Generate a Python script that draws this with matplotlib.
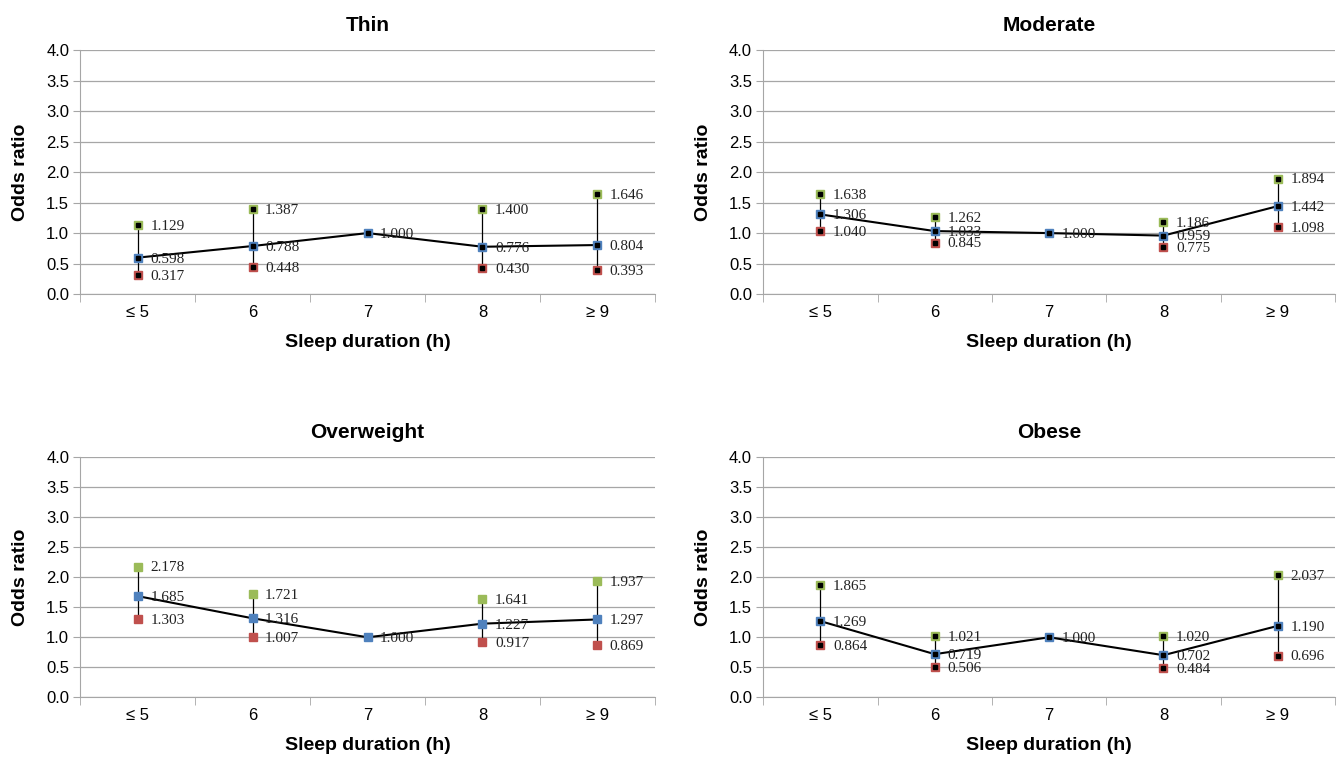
import matplotlib.pyplot as plt
import numpy as np

plt.rcParams["font.family"] = ["Liberation Sans", "DejaVu Sans"]

categories = ["≤ 5", "6", "7", "8", "≥ 9"]
yticks = [0.0, 0.5, 1.0, 1.5, 2.0, 2.5, 3.0, 3.5, 4.0]

# upper CI, odds ratio, lower CI (reference group 7 h has no CI)
thin_hi = [1.129, 1.387, None, 1.400, 1.646]
thin_or = [0.598, 0.788, 1.000, 0.776, 0.804]
thin_lo = [0.317, 0.448, None, 0.430, 0.393]

mod_hi = [1.638, 1.262, None, 1.186, 1.894]
mod_or = [1.306, 1.033, 1.000, 0.959, 1.442]
mod_lo = [1.040, 0.845, None, 0.775, 1.098]

over_hi = [2.178, 1.721, None, 1.641, 1.937]
over_or = [1.685, 1.316, 1.000, 1.227, 1.297]
over_lo = [1.303, 1.007, None, 0.917, 0.869]

obese_hi = [1.865, 1.021, None, 1.020, 2.037]
obese_or = [1.269, 0.719, 1.000, 0.702, 1.190]
obese_lo = [0.864, 0.506, None, 0.484, 0.696]

GREEN = "#9BBB59"
BLUE = "#4F81BD"
RED = "#C0504D"
GRID = "#A6A6A6"


def panel(ax, title, hi, orr, lo, dots=True):
    x = np.arange(len(categories))
    for i in x:
        if hi[i] is not None:
            ax.plot([i, i], [lo[i], hi[i]], color="black", lw=0.9, zorder=2)
    ax.plot(x, orr, color="black", lw=1.5, zorder=3)
    for vals, col in [(hi, GREEN), (orr, BLUE), (lo, RED)]:
        xs = [i for i in x if vals[i] is not None]
        ys = [vals[i] for i in xs]
        ax.plot(xs, ys, ls="none", marker="s", ms=5.5, mfc=col, mec=col, zorder=4)
        if dots:
            ax.plot(xs, ys, ls="none", marker="s", ms=2.2, mfc="black", mec="black", zorder=5)
        for xi, yi in zip(xs, ys):
            ax.annotate(f"{yi:.3f}", (xi, yi), xytext=(9, -1), textcoords="offset points",
                        va="center", ha="left", fontsize=11, family="Liberation Serif",
                        color="#222222", zorder=6)

    ax.set_xlim(-0.5, 4.5)
    ax.set_ylim(0, 4.0)
    ax.set_yticks(yticks)
    ax.set_yticklabels([f"{v:.1f}" for v in yticks], fontsize=12)
    ax.set_xticks(x)
    ax.set_xticklabels(categories, fontsize=12)
    ax.set_xticks(np.arange(-0.5, 5.0, 1.0), minor=True)
    ax.tick_params(axis="x", which="major", length=0, pad=8)
    ax.tick_params(axis="x", which="minor", length=6, color=GRID, direction="out")
    ax.tick_params(axis="y", length=5, color=GRID, pad=3)
    ax.grid(axis="y", color=GRID, lw=0.9)
    ax.set_axisbelow(True)
    for s in ["top", "right"]:
        ax.spines[s].set_visible(False)
    for s in ["left", "bottom"]:
        ax.spines[s].set_color(GRID)
    ax.set_title(title, fontsize=15, fontweight="bold", pad=14)
    ax.set_xlabel("Sleep duration (h)", fontsize=14, fontweight="bold", labelpad=10)
    ax.set_ylabel("Odds ratio", fontsize=14, fontweight="bold", labelpad=12)


fig = plt.figure(figsize=(13.39, 7.58), dpi=100)
ax1 = fig.add_axes([0.060, 0.612, 0.429, 0.322])
ax2 = fig.add_axes([0.570, 0.612, 0.427, 0.322])
ax3 = fig.add_axes([0.060, 0.080, 0.429, 0.317])
ax4 = fig.add_axes([0.570, 0.080, 0.427, 0.317])

panel(ax1, "Thin", thin_hi, thin_or, thin_lo)
panel(ax2, "Moderate", mod_hi, mod_or, mod_lo)
panel(ax3, "Overweight", over_hi, over_or, over_lo, dots=False)
panel(ax4, "Obese", obese_hi, obese_or, obese_lo)

fig.savefig("out.png", dpi=100)
